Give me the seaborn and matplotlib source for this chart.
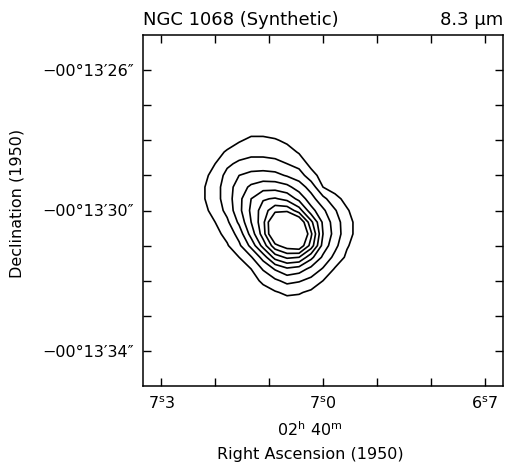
import numpy as np
import matplotlib
matplotlib.use("Agg")
import matplotlib.pyplot as plt
import seaborn as sns

# ---- data -------------------------------------------------------------
# map grid: right ascension (seconds of 02h40m) and declination
# (arcseconds of -00d13m), surface brightness in tenths of a contour step
ra_sec = [6.8889, 6.9111, 6.9333, 6.9556, 6.9778, 7.0, 7.0222, 7.0444, 7.0667,
          7.0889, 7.1111, 7.1333, 7.1556, 7.1778, 7.2, 7.2222, 7.2444, 7.2667]
dec_sec = [27.333, 27.667, 28.0, 28.333, 28.667, 29.0, 29.333, 29.667, 30.0,
           30.333, 30.667, 31.0, 31.333, 31.667, 32.0, 32.333, 32.667, 33.0, 33.333]
intensity = [
    [0, 0, 0, 0, 0, 0, 0, 0, 0, 0, 0, 0, 0, 0, 0, 0, 0, 0],
    [0, 0, 0, 0, 0, 0, 0, 0, 3, 4, 6, 6, 4, 1, 0, 0, 0, 0],
    [0, 0, 0, 0, 0, 0, 0, 4, 8, 11, 12, 12, 9, 6, 2, 0, 0, 0],
    [0, 0, 0, 0, 0, 0, 3, 9, 14, 16, 17, 17, 15, 11, 7, 2, 0, 0],
    [0, 0, 0, 0, 0, 2, 7, 16, 20, 23, 24, 24, 22, 18, 10, 5, 0, 0],
    [0, 0, 0, 0, 2, 6, 14, 25, 29, 33, 34, 33, 30, 23, 14, 7, 2, 0],
    [0, 0, 0, 3, 6, 10, 26, 35, 43, 46, 46, 42, 35, 25, 16, 9, 3, 0],
    [0, 0, 3, 7, 13, 23, 34, 47, 57, 61, 59, 50, 37, 25, 16, 9, 2, 0],
    [0, 0, 5, 11, 21, 32, 44, 65, 77, 77, 65, 52, 37, 23, 14, 7, 0, 0],
    [0, 0, 6, 14, 25, 38, 63, 92, 112, 97, 67, 50, 32, 18, 10, 4, 0, 0],
    [0, 0, 6, 14, 26, 40, 72, 102, 116, 97, 65, 44, 24, 13, 7, 1, 0, 0],
    [0, 0, 5, 11, 23, 36, 66, 89, 86, 77, 54, 33, 18, 9, 4, 0, 0, 0],
    [0, 0, 3, 8, 17, 28, 43, 60, 62, 54, 34, 19, 10, 5, 0, 0, 0, 0],
    [0, 0, 0, 5, 9, 19, 27, 35, 38, 31, 21, 10, 6, 1, 0, 0, 0, 0],
    [0, 0, 0, 1, 5, 10, 17, 21, 23, 18, 12, 6, 1, 0, 0, 0, 0, 0],
    [0, 0, 0, 0, 1, 5, 8, 11, 12, 9, 6, 2, 0, 0, 0, 0, 0, 0],
    [0, 0, 0, 0, 0, 0, 3, 5, 5, 4, 1, 0, 0, 0, 0, 0, 0, 0],
    [0, 0, 0, 0, 0, 0, 0, 0, 0, 0, 0, 0, 0, 0, 0, 0, 0, 0],
    [0, 0, 0, 0, 0, 0, 0, 0, 0, 0, 0, 0, 0, 0, 0, 0, 0, 0],
]
contour_levels = [10, 20, 30, 40, 50, 60, 70, 80]

x_ticks = [7.3, 7.2, 7.1, 7.0, 6.9, 6.8, 6.7]
x_tick_labels = ["7$^{s}$3", "", "", "7$^{s}$0", "", "", "6$^{s}$7"]
y_ticks = [26, 27, 28, 29, 30, 31, 32, 33, 34]
y_tick_labels = ["\u221200\u00b013\u203226\u2033", "", "", "",
                 "\u221200\u00b013\u203230\u2033", "", "", "",
                 "\u221200\u00b013\u203234\u2033"]

title_left = "NGC 1068 (Synthetic)"
title_right = "8.3 \u03bcm"
x_sub = "02$^{h}$ 40$^{m}$"
x_label = "Right Ascension (1950)"
y_label = "Declination (1950)"

# ---- figure -----------------------------------------------------------
sns.set_theme(style="ticks")
plt.rcParams['font.family'] = ['DejaVu Sans']
plt.rcParams['mathtext.default'] = 'regular'

W, H = 507, 466
fig = plt.figure(figsize=(W / 100, H / 100), dpi=100)
fig.patch.set_facecolor("white")
ax = fig.add_axes([143.3 / W, 1 - 386 / H, (502.7 - 143.3) / W, (386 - 35) / H])
ax.set_facecolor("white")

ax.contour(ra_sec, dec_sec, np.array(intensity), levels=contour_levels,
           colors="black", linewidths=1.2)

ax.set_xlim(7.0 + 1 / 3, 7.0 - 1 / 3)
ax.set_ylim(35, 25)
ax.set_xticks(x_ticks)
ax.set_xticklabels(x_tick_labels)
ax.set_yticks(y_ticks)
ax.set_yticklabels(y_tick_labels)
ax.tick_params(direction="in", length=5.5, width=1.0, top=True, right=True,
               colors="black", labelcolor="black", labelsize=11.5, pad=7)
for sp in ax.spines.values():
    sp.set_linewidth(1.1)
    sp.set_color("black")
ax.grid(False)

fig.text(143 / W, 1 - 25 / H, title_left, ha="left", va="baseline",
         fontsize=13, color="black")
fig.text(503 / W, 1 - 25 / H, title_right, ha="right", va="baseline",
         fontsize=13, color="black")
fig.text(310 / W, 1 - 430 / H, x_sub, ha="center", va="center",
         fontsize=11.5, color="black")
fig.text(310 / W, 1 - 454 / H, x_label, ha="center", va="center",
         fontsize=11.5, color="black")
fig.text(17 / W, 1 - 203 / H, y_label, ha="center", va="center",
         rotation=90, fontsize=11.5, color="black")

fig.savefig("out.png", dpi=100, facecolor="white")
